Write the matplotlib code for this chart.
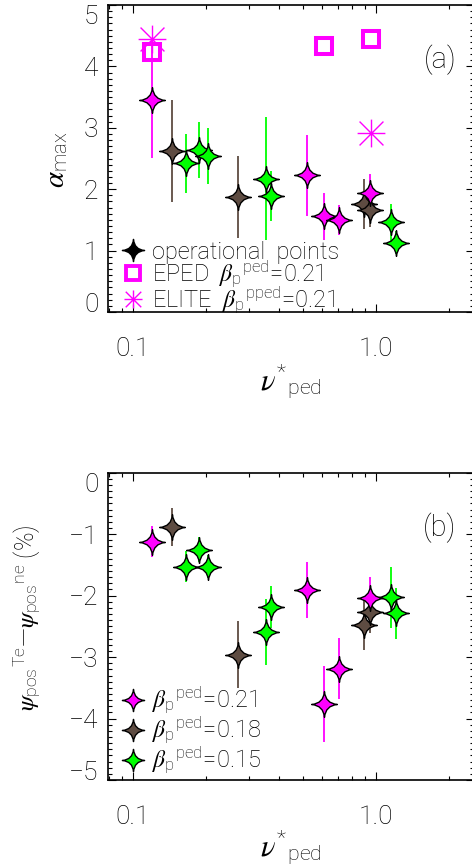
import matplotlib
matplotlib.use("Agg")
import matplotlib.pyplot as plt
from matplotlib.path import Path
from matplotlib.lines import Line2D
from matplotlib.ticker import FixedLocator, MultipleLocator, NullFormatter

plt.rcParams['font.family'] = ['Roboto', 'DejaVu Sans']
plt.rcParams['font.weight'] = 'light'
plt.rcParams['axes.labelweight'] = 'light'
plt.rcParams['mathtext.fontset'] = 'custom'
plt.rcParams['mathtext.rm'] = 'Roboto:light'
plt.rcParams['mathtext.it'] = 'STIXGeneral:italic:normal'
plt.rcParams['axes.unicode_minus'] = True

# ---- data ----
nu_021 = [0.1205, 0.520, 0.611, 0.702, 0.945]
alpha_021 = [3.46, 2.23, 1.56, 1.50, 1.94]
alpha_021_err = [0.95, 0.66, 0.38, 0.25, 0.31]
dpsi_021 = [-1.12, -1.91, -3.76, -3.19, -2.04]
dpsi_021_err = [0.25, 0.46, 0.62, 0.50, 0.34]

nu_018 = [0.145, 0.270, 0.890, 0.945]
alpha_018 = [2.62, 1.87, 1.76, 1.66]
alpha_018_err = [0.83, 0.67, 0.41, 0.28]
dpsi_018 = [-0.88, -2.96, -2.48, -2.26]
dpsi_018_err = [0.31, 0.54, 0.41, 0.35]

nu_015 = [0.166, 0.187, 0.204, 0.354, 0.369, 1.152, 1.205]
alpha_015 = [2.42, 2.64, 2.54, 2.17, 1.89, 1.46, 1.13]
alpha_015_err = [0.48, 0.46, 0.46, 1.00, 0.41, 0.30, 0.19]
dpsi_015 = [-1.53, -1.25, -1.53, -2.59, -2.19, -2.03, -2.29]
dpsi_015_err = [0.25, 0.21, 0.19, 0.54, 0.34, 0.49, 0.41]

nu_eped = [0.1205, 0.611, 0.957]
alpha_eped = [4.24, 4.34, 4.44]
nu_elite = [0.1205, 0.957]
alpha_elite = [4.44, 2.92]

yticks_a = [0, 1, 2, 3, 4, 5]
yticks_b = [-5, -4, -3, -2, -1, 0]

MAG = '#FF00FF'
BRN = '#5E4C42'
GRN = '#00FF00'

# four pointed star with concave sides
c = 0.08
star = Path([(0, 1), (c, c), (1, 0), (c, -c), (0, -1), (-c, -c), (-1, 0), (-c, c), (0, 1), (0, 1)],
            [Path.MOVETO] + [Path.CURVE3] * 8 + [Path.CLOSEPOLY])
d = 0.86
aster = Path([(-1, 0), (1, 0), (0, -1), (0, 1), (-d, -d), (d, d), (-d, d), (d, -d)],
             [Path.MOVETO, Path.LINETO] * 4)

fig = plt.figure(figsize=(4.72, 8.67), dpi=100)
W, H = 472.0, 867.0
ax1 = fig.add_axes([108 / W, 1 - 312 / H, 366 / W, 307 / H])
ax2 = fig.add_axes([108 / W, 1 - 780 / H, 366 / W, 307.3 / H])

groups1 = [(nu_018, alpha_018, alpha_018_err, BRN),
           (nu_015, alpha_015, alpha_015_err, GRN),
           (nu_021, alpha_021, alpha_021_err, MAG)]
groups2 = [(nu_018, dpsi_018, dpsi_018_err, BRN),
           (nu_015, dpsi_015, dpsi_015_err, GRN),
           (nu_021, dpsi_021, dpsi_021_err, MAG)]

for ax, groups in ((ax1, groups1), (ax2, groups2)):
    for x, y, e, col in groups:
        ax.errorbar(x, y, yerr=e, fmt='none', ecolor=col, elinewidth=1.3, capsize=0, zorder=2)
    for x, y, e, col in groups:
        ax.plot(x, y, ls='none', marker=star, ms=18.5, mfc=col, mec='k', mew=1.0, zorder=3)

ax1.plot(nu_eped, alpha_eped, ls='none', marker='s', ms=11, mfc='none', mec=MAG, mew=2.9, zorder=4)
ax1.plot(nu_elite, alpha_elite, ls='none', marker=aster, ms=20, mec=MAG, mew=1.0, zorder=5)

for ax, yt in ((ax1, yticks_a), (ax2, yticks_b)):
    ax.set_xscale('log')
    ax.set_xlim(0.0791, 2.527)
    ax.xaxis.set_major_locator(FixedLocator([0.1, 1.0]))
    ax.xaxis.set_minor_locator(FixedLocator([0.08, 0.09] + [0.1 * k for k in range(2, 10)] + [2.0]))
    ax.xaxis.set_minor_formatter(NullFormatter())
    ax.set_xticklabels(['0.1', '1.0'])
    ax.set_ylim(yt[0], yt[-1])
    ax.set_yticks(yt)
    ax.set_yticklabels([str(v).replace('-', '\u2212') for v in yt])
    ax.yaxis.set_minor_locator(MultipleLocator(0.1))
    ax.tick_params(which='both', direction='in', top=True, right=True, width=0.8, labelsize=19)
    ax.tick_params(axis='x', which='both', pad=18)
    ax.tick_params(axis='y', which='both', pad=7)
    ax.tick_params(which='major', length=6)
    ax.tick_params(which='minor', length=3)
    for s in ax.spines.values():
        s.set_linewidth(1.2)
    labs = ax.get_yticklabels()
    labs[0].set_va('baseline')
    labs[-1].set_va('top')
    ax.set_xlabel(r'$\nu^{*}{}_{\mathrm{ped}}$', fontsize=22, va='center')

ax1.xaxis.set_label_coords(0.5, -0.228)
ax2.xaxis.set_label_coords(0.5, -0.221)

# y titles placed by their rotated bounding-box centre
ax1.text(-0.142, 0.495, r'$\alpha_{\mathrm{max}}$', transform=ax1.transAxes, fontsize=21,
         rotation=90, ha='center', va='center')
ax2.text(-0.224, 0.527,
         r'$\psi_{\mathrm{pos}}{}^{\mathrm{Te}}$—$\psi_{\mathrm{pos}}{}^{\mathrm{ne}}$ (%)',
         transform=ax2.transAxes, fontsize=18, rotation=90, ha='center', va='center')

ax1.text(0.907, 0.821, '(a)', transform=ax1.transAxes, fontsize=21, ha='center', va='center')
ax2.text(0.907, 0.82, '(b)', transform=ax2.transAxes, fontsize=21, ha='center', va='center')

h1 = [Line2D([], [], ls='none', marker=star, ms=16, mfc='k', mec='k'),
      Line2D([], [], ls='none', marker='s', ms=9.5, mfc='none', mec=MAG, mew=2.8),
      Line2D([], [], ls='none', marker=aster, ms=13, mec=MAG, mew=1.0)]
l1 = ['operational  points',
      r'EPED  $\beta_{\mathrm{p}}{}^{\mathrm{ped}}$=0.21',
      r'ELITE  $\beta_{\mathrm{p}}{}^{\mathrm{pped}}$=0.21']
ax1.legend(h1, l1, loc='lower left', bbox_to_anchor=(0.035, -0.012), frameon=False, fontsize=17,
           handlelength=1.0, handletextpad=0.3, labelspacing=-0.22, borderpad=0, borderaxespad=0)

h2 = [Line2D([], [], ls='none', marker=star, ms=16, mfc=col, mec='k', mew=1.0) for col in (MAG, BRN, GRN)]
l2 = [r'$\beta_{\mathrm{p}}{}^{\mathrm{ped}}$=0.21',
      r'$\beta_{\mathrm{p}}{}^{\mathrm{ped}}$=0.18',
      r'$\beta_{\mathrm{p}}{}^{\mathrm{ped}}$=0.15']
ax2.legend(h2, l2, loc='lower left', bbox_to_anchor=(0.035, 0.012), frameon=False, fontsize=17,
           handlelength=1.0, handletextpad=0.3, labelspacing=-0.05, borderpad=0, borderaxespad=0)

fig.savefig('out.png', dpi=100)
